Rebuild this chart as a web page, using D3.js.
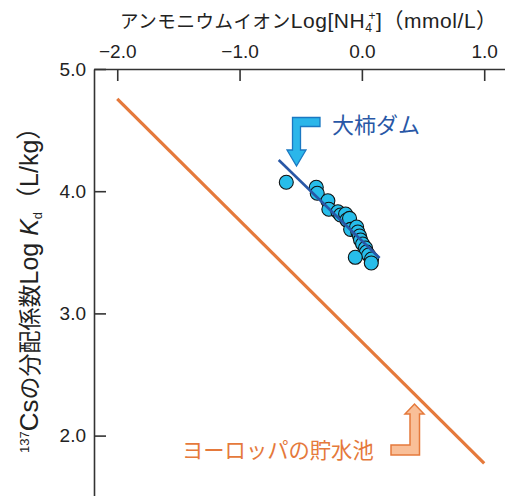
<!DOCTYPE html>
<html><head><meta charset="utf-8">
<script src="https://cdn.jsdelivr.net/npm/d3@7"></script>
<style>
body{margin:0;background:#fff;}
text{font-family:"Liberation Sans","Noto Sans CJK JP",sans-serif;}
</style></head>
<body><div id="chart"></div>
<script>
const W = 505, H = 496;
const xTicks = [-2, -1, 0, 1];
const yTicks = [2, 3, 4, 5];
// Oogaki dam data: log[NH4+], log Kd
const damX = [-0.618,-0.373,-0.365,-0.278,-0.270,-0.196,-0.174,-0.133,-0.123,-0.101,-0.092,-0.043,-0.033,-0.019,-0.011,0.006,0.030,0.038,0.055,0.079,-0.054,0.077];
const damY = [4.073,4.032,3.983,3.922,3.852,3.832,3.805,3.813,3.764,3.778,3.688,3.707,3.666,3.633,3.601,3.568,3.535,3.502,3.478,3.445,3.459,3.413];
// regression line for dam
const damLineX = [-0.68, 0.145];
const damLineY = [4.255, 3.453];
// European reservoirs line
const euLineX = [-2.0, 1.0];
const euLineY = [4.755, 1.773];

const svg = d3.select("#chart").append("svg").attr("width", W).attr("height", H);
const x = d3.scaleLinear().domain([-2.19, 1.17]).range([94, 505]);
const y = d3.scaleLinear().domain([1.5, 5]).range([496.7, 69]);

const fmt = d => d3.format(".1f")(d);

const gx = svg.append("g").attr("transform", `translate(0,${y(5)})`)
  .call(d3.axisTop(x).tickValues(xTicks).tickFormat(fmt).tickSizeInner(-12).tickSizeOuter(0).tickPadding(11));
const gy = svg.append("g").attr("transform", `translate(${x(-2.19)},0)`)
  .call(d3.axisLeft(y).tickValues(yTicks).tickFormat(fmt).tickSizeInner(-12).tickSizeOuter(0).tickPadding(8));
[gx, gy].forEach(g => {
  g.select(".domain").attr("stroke", "#333").attr("stroke-width", 1.6);
  g.selectAll(".tick line").attr("stroke", "#333").attr("stroke-width", 1.6);
  g.selectAll(".tick text").attr("fill", "#222").style("font-size", "19px");
});

// European line
svg.append("line")
  .attr("x1", x(euLineX[0])).attr("y1", y(euLineY[0]))
  .attr("x2", x(euLineX[1])).attr("y2", y(euLineY[1]))
  .attr("stroke", "#e5793b").attr("stroke-width", 3.2);

// dam points
svg.append("g").selectAll("circle").data(damX.map((d,i)=>[d,damY[i]])).join("circle")
  .attr("cx", d => x(d[0])).attr("cy", d => y(d[1])).attr("r", 7)
  .attr("fill", "#27bdea").attr("stroke", "#111").attr("stroke-width", 1.1);

// dam line
svg.append("line")
  .attr("x1", x(damLineX[0])).attr("y1", y(damLineY[0]))
  .attr("x2", x(damLineX[1])).attr("y2", y(damLineY[1]))
  .attr("stroke", "#2857a6").attr("stroke-width", 2.6);

// blue arrow (pointing down)
svg.append("path")
  .attr("d", "M320,117.5 L292.5,117.5 L292.5,150 L287,150 L296.5,166 L306,150 L300.5,150 L300.5,126.5 L320,126.5 Z")
  .attr("fill", "#2bb6ea").attr("stroke", "#1a78c2").attr("stroke-width", 1.3);
svg.append("text").attr("x", 332).attr("y", 133).text("大柿ダム")
  .attr("fill", "#2857a6").style("font-size", "22px");

// orange arrow (pointing up)
svg.append("path")
  .attr("d", "M391,445 L410,445 L410,414 L405,414 L414.5,404 L424,414 L419.5,414 L419.5,455 L391,455 Z")
  .attr("fill", "#f9bf98").attr("stroke", "#e5793b").attr("stroke-width", 1.5);
svg.append("text").attr("x", 182).attr("y", 458).text("ヨーロッパの貯水池")
  .attr("fill", "#e5793b").style("font-size", "21.3px");

// top title
const t = svg.append("text").attr("x", 120).attr("y", 28).attr("fill", "#222").style("font-size", "18.5px")
  .style("letter-spacing", "0.55px");
t.append("tspan").text("アンモニウムイオン");
t.append("tspan").text("Log[NH").style("font-size", "21px");
t.append("tspan").text("4").style("font-size", "12px").attr("dy", 4);
t.append("tspan").text("+").style("font-size", "12px").attr("dx", -4).attr("dy", -12);
t.append("tspan").text("]（mmol/L）").style("font-size", "21px").attr("dy", 8);

// y label
const yl = svg.append("text").attr("transform", "translate(38,453) rotate(-90)").attr("fill", "#222").style("font-size", "23px");
yl.append("tspan").text("137").style("font-size", "13px").attr("dy", -9);
yl.append("tspan").text("Cs").style("font-size", "26px").attr("dy", 9);
yl.append("tspan").text("の分配係数");
yl.append("tspan").text("Log ").style("font-size", "25px");
yl.append("tspan").text("K").style("font-size", "25px").style("font-style", "italic");
yl.append("tspan").text("d").style("font-size", "13px").attr("dy", 4);
yl.append("tspan").text("（L/kg）").style("font-size", "25px").attr("dy", -4);
</script></body></html>
